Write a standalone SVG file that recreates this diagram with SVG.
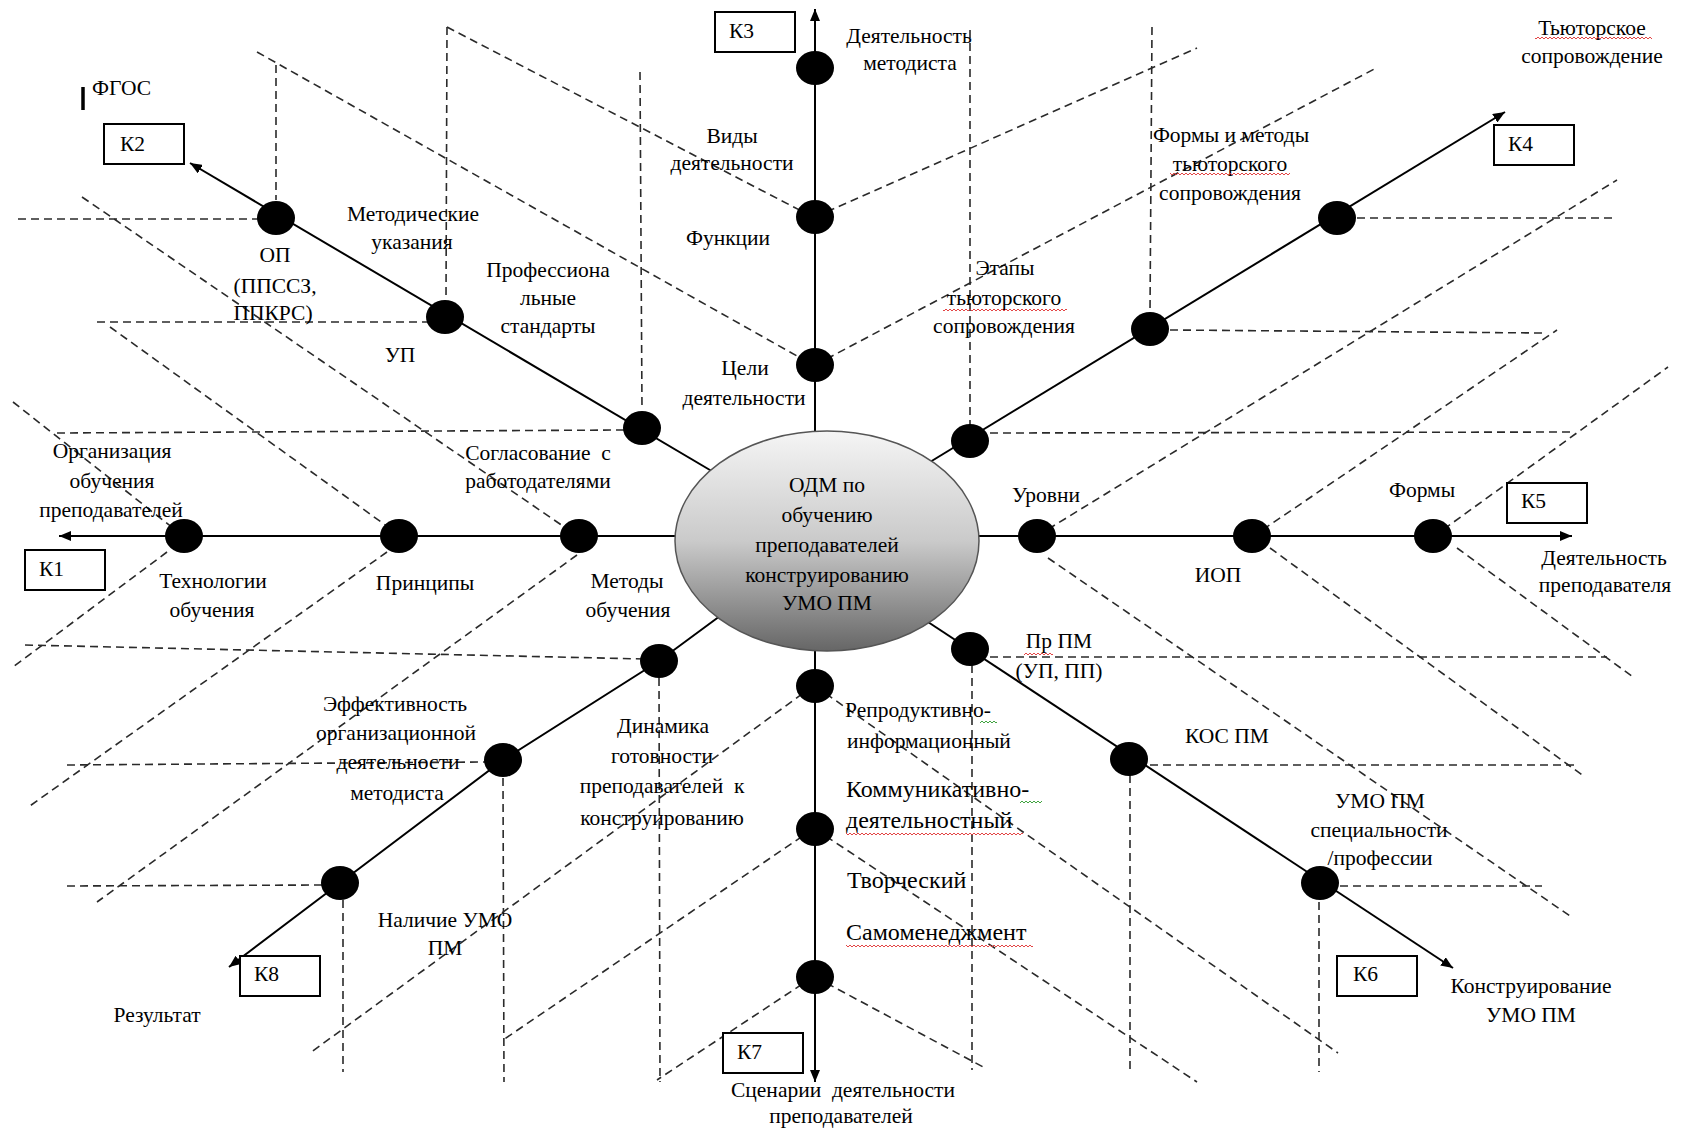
<svg xmlns="http://www.w3.org/2000/svg" width="1691" height="1130" viewBox="0 0 1691 1130">
<style>
.ax{stroke:#000;stroke-width:2;fill:none}
.d{stroke:#2a2a2a;stroke-width:1.6;stroke-dasharray:8 5;fill:none}
.dot{fill:#000}
.box{fill:#fff;stroke:#000;stroke-width:2}
text{font-family:"Liberation Serif","Times New Roman",serif;font-size:21.5px;fill:#000}
.c{text-anchor:middle}
.big{font-size:24px}
.wr{fill:url(#wr)}
.wg{fill:url(#wg)}
</style>
<defs>
<marker id="arr" viewBox="0 0 12 10" refX="12" refY="5" markerWidth="12" markerHeight="10" markerUnits="userSpaceOnUse" orient="auto"><path d="M0,0 L12,5 L0,10 z" fill="#000"/></marker>
<linearGradient id="g" x1="0" y1="0" x2="0" y2="1"><stop offset="0" stop-color="#f5f5f5"/><stop offset="0.5" stop-color="#cacaca"/><stop offset="1" stop-color="#666"/></linearGradient>
<pattern id="wr" width="4" height="4" patternUnits="userSpaceOnUse"><path d="M0 3 L2 1 L4 3" fill="none" stroke="#e03030" stroke-width="0.9"/></pattern>
<pattern id="wg" width="4" height="4" patternUnits="userSpaceOnUse"><path d="M0 3 L2 1 L4 3" fill="none" stroke="#2a9a2a" stroke-width="0.9"/></pattern>
</defs>
<rect width="1691" height="1130" fill="#fff"/>

<g id="connectors">
<g id="guides">
<!-- upper-left -->
<line class="d" x1="18" y1="219" x2="258" y2="219"/>
<line class="d" x1="276" y1="65" x2="276" y2="200"/>
<line class="d" x1="447" y1="27" x2="446" y2="300"/>
<line class="d" x1="257" y1="52" x2="813" y2="365"/>
<line class="d" x1="447" y1="27" x2="813" y2="217"/>
<line class="d" x1="640" y1="72" x2="642" y2="410"/>
<line class="d" x1="97" y1="322" x2="428" y2="322"/>
<line class="d" x1="82" y1="197" x2="579" y2="537"/>
<line class="d" x1="110" y1="327" x2="395" y2="532"/>
<line class="d" x1="13" y1="402" x2="178" y2="532"/>
<line class="d" x1="57" y1="433" x2="625" y2="430"/>
<!-- lower-left -->
<line class="d" x1="167" y1="552" x2="13" y2="667"/>
<line class="d" x1="25" y1="645" x2="645" y2="659"/>
<line class="d" x1="387" y1="552" x2="27" y2="808"/>
<line class="d" x1="577" y1="555" x2="97" y2="902"/>
<line class="d" x1="67" y1="765" x2="485" y2="762"/>
<line class="d" x1="67" y1="886" x2="322" y2="885"/>
<line class="d" x1="343" y1="900" x2="343" y2="1072"/>
<line class="d" x1="503" y1="778" x2="504" y2="1082"/>
<line class="d" x1="659" y1="678" x2="660" y2="1082"/>
<line class="d" x1="813" y1="686" x2="310" y2="1053"/>
<line class="d" x1="813" y1="829" x2="503" y2="1040"/>
<line class="d" x1="813" y1="977" x2="657" y2="1080"/>
<!-- lower-right -->
<line class="d" x1="815" y1="686" x2="1338" y2="1053"/>
<line class="d" x1="815" y1="829" x2="1197" y2="1082"/>
<line class="d" x1="815" y1="977" x2="985" y2="1068"/>
<line class="d" x1="972" y1="665" x2="972" y2="1070"/>
<line class="d" x1="990" y1="657" x2="1607" y2="657"/>
<line class="d" x1="1048" y1="558" x2="1573" y2="918"/>
<line class="d" x1="1130" y1="775" x2="1130" y2="1072"/>
<line class="d" x1="1150" y1="765" x2="1575" y2="765"/>
<line class="d" x1="1270" y1="548" x2="1585" y2="777"/>
<line class="d" x1="1457" y1="548" x2="1633" y2="677"/>
<line class="d" x1="1340" y1="886" x2="1542" y2="886"/>
<line class="d" x1="1319" y1="902" x2="1319" y2="1072"/>
<!-- upper-right -->
<line class="d" x1="970" y1="30" x2="970" y2="425"/>
<line class="d" x1="1152" y1="27" x2="1150" y2="312"/>
<line class="d" x1="815" y1="217" x2="1197" y2="48"/>
<line class="d" x1="815" y1="365" x2="1378" y2="67"/>
<line class="d" x1="1037" y1="536" x2="1617" y2="180"/>
<line class="d" x1="1252" y1="537" x2="1557" y2="330"/>
<line class="d" x1="1433" y1="537" x2="1668" y2="367"/>
<line class="d" x1="990" y1="433" x2="1575" y2="432"/>
<line class="d" x1="1170" y1="330" x2="1543" y2="333"/>
<line class="d" x1="1357" y1="218" x2="1617" y2="218"/>
</g>
<g id="axes">
<line class="ax" x1="815" y1="440" x2="815" y2="9" marker-end="url(#arr)"/>
<line class="ax" x1="815" y1="640" x2="815" y2="1082" marker-end="url(#arr)"/>
<line class="ax" x1="690" y1="536" x2="59" y2="536" marker-end="url(#arr)"/>
<line class="ax" x1="965" y1="536" x2="1572" y2="536" marker-end="url(#arr)"/>
<line class="ax" x1="715" y1="473" x2="190" y2="163" marker-end="url(#arr)"/>
<line class="ax" x1="930" y1="462" x2="1505" y2="112" marker-end="url(#arr)"/>
<polyline class="ax" points="720,616 659,661 503,760 340,883 229,967" marker-end="url(#arr)"/>
<line class="ax" x1="928" y1="622" x2="1453" y2="968" marker-end="url(#arr)"/>
</g>
</g>

<g id="center">
<ellipse cx="827" cy="541" rx="152" ry="110" fill="url(#g)" stroke="#555" stroke-width="1.5"/>
<text class="c" x="827" y="492">ОДМ по</text>
<text class="c" x="827" y="522">обучению</text>
<text class="c" x="827" y="552">преподавателей</text>
<text class="c" x="827" y="582">конструированию</text>
<text class="c" x="827" y="610">УМО ПМ</text>
</g>

<g id="k1"><rect class="box" x="25" y="550" width="80" height="40"/><text x="39" y="576">К1</text></g>
<g id="k2"><rect class="box" x="104" y="124" width="80" height="40"/><text x="120" y="151">К2</text></g>
<g id="k3"><rect class="box" x="715" y="12" width="80" height="40"/><text x="729" y="38">К3</text></g>
<g id="k4"><rect class="box" x="1494" y="125" width="80" height="40"/><text x="1508" y="151">К4</text></g>
<g id="k5"><rect class="box" x="1507" y="483" width="80" height="40"/><text x="1521" y="508">К5</text></g>
<g id="k6"><rect class="box" x="1337" y="956" width="80" height="40"/><text x="1353" y="981">К6</text></g>
<g id="k7"><rect class="box" x="723" y="1033" width="80" height="40"/><text x="737" y="1059">К7</text></g>
<g id="k8"><rect class="box" x="240" y="956" width="80" height="40"/><text x="254" y="981">К8</text></g>

<g id="n-top1"><ellipse class="dot" cx="815" cy="68" rx="19" ry="17"/><text class="c" x="909" y="43">Деятельность</text><text class="c" x="910" y="70">методиста</text></g>
<g id="n-top2"><ellipse class="dot" cx="815" cy="217" rx="19" ry="17"/><text class="c" x="732" y="143">Виды</text><text class="c" x="732" y="170">деятельности</text><text class="c" x="728" y="245">Функции</text></g>
<g id="n-top3"><ellipse class="dot" cx="815" cy="365" rx="19" ry="17"/><text class="c" x="745" y="375">Цели</text><text class="c" x="744" y="405">деятельности</text></g>

<g id="n-ul1"><ellipse class="dot" cx="276" cy="218" rx="19" ry="17"/><text class="c" x="275" y="262">ОП</text><text class="c" x="275" y="293">(ППССЗ,</text><text class="c" x="273" y="320">ППКРС)</text></g>
<g id="n-ul2"><ellipse class="dot" cx="445" cy="317" rx="19" ry="17"/><text class="c" x="413" y="221">Методические</text><text class="c" x="412" y="249">указания</text><text class="c" x="400" y="362">УП</text></g>
<g id="n-ul3"><ellipse class="dot" cx="642" cy="428" rx="19" ry="17"/><text class="c" x="548" y="277">Профессиона</text><text class="c" x="548" y="305">льные</text><text class="c" x="548" y="333">стандарты</text></g>
<g id="fgos"><line x1="83" y1="87" x2="83" y2="110" stroke="#000" stroke-width="3.5"/><text x="92" y="95">ФГОС</text></g>

<g id="n-l1"><ellipse class="dot" cx="184" cy="536" rx="19" ry="17"/><text class="c" x="112" y="458">Организация</text><text class="c" x="112" y="488">обучения</text><text class="c" x="111" y="517">преподавателей</text><text class="c" x="213" y="588">Технологии</text><text class="c" x="212" y="617">обучения</text></g>
<g id="n-l2"><ellipse class="dot" cx="399" cy="536" rx="19" ry="17"/><text class="c" x="425" y="590">Принципы</text></g>
<g id="n-l3"><ellipse class="dot" cx="579" cy="536" rx="19" ry="17"/><text class="c" x="538" y="460" xml:space="preserve">Согласование  с</text><text class="c" x="538" y="488">работодателями</text><text class="c" x="627" y="588">Методы</text><text class="c" x="628" y="617">обучения</text></g>

<g id="n-ur1"><ellipse class="dot" cx="970" cy="441" rx="19" ry="17"/><text class="c" x="1005" y="275">Этапы</text><text class="c" x="1004" y="305">тьюторского</text><text class="c" x="1004" y="333">сопровождения</text></g>
<g id="n-ur2"><ellipse class="dot" cx="1150" cy="329" rx="19" ry="17"/><text class="c" x="1231" y="142">Формы и методы</text><text class="c" x="1230" y="171">тьюторского</text><text class="c" x="1230" y="200">сопровождения</text></g>
<g id="n-ur3"><ellipse class="dot" cx="1337" cy="218" rx="19" ry="17"/><text class="c" x="1592" y="35">Тьюторское</text><text class="c" x="1592" y="63">сопровождение</text></g>

<g id="n-r1"><ellipse class="dot" cx="1037" cy="536" rx="19" ry="17"/><text class="c" x="1046" y="502">Уровни</text></g>
<g id="n-r2"><ellipse class="dot" cx="1252" cy="536" rx="19" ry="17"/><text class="c" x="1218" y="582">ИОП</text></g>
<g id="n-r3"><ellipse class="dot" cx="1433" cy="536" rx="19" ry="17"/><text class="c" x="1422" y="497">Формы</text><text class="c" x="1604" y="565">Деятельность</text><text class="c" x="1605" y="592">преподавателя</text></g>

<g id="n-lr1"><ellipse class="dot" cx="970" cy="649" rx="19" ry="17"/><text class="c" x="1059" y="648">Пр ПМ</text><text class="c" x="1059" y="678">(УП, ПП)</text></g>
<g id="n-lr2"><ellipse class="dot" cx="1129" cy="759" rx="19" ry="17"/><text class="c" x="1227" y="743">КОС ПМ</text></g>
<g id="n-lr3"><ellipse class="dot" cx="1320" cy="883" rx="19" ry="17"/><text class="c" x="1380" y="808">УМО ПМ</text><text class="c" x="1379" y="837">специальности</text><text class="c" x="1380" y="865">/профессии</text><text class="c" x="1531" y="993">Конструирование</text><text class="c" x="1531" y="1022">УМО ПМ</text></g>

<g id="n-b1"><ellipse class="dot" cx="815" cy="686" rx="19" ry="17"/><text x="845" y="717">Репродуктивно-</text><text x="847" y="748">информационный</text></g>
<g id="n-b2"><ellipse class="dot" cx="815" cy="829" rx="19" ry="17"/><text class="big" x="846" y="797">Коммуникативно-</text><text class="big" x="846" y="828">деятельностный</text><text class="big" x="847" y="888">Творческий</text></g>
<g id="n-b3"><ellipse class="dot" cx="815" cy="977" rx="19" ry="17"/><text class="big" x="846" y="940">Самоменеджмент</text><text class="c" x="843" y="1097" xml:space="preserve">Сценарии  деятельности</text><text class="c" x="841" y="1123">преподавателей</text></g>

<g id="n-ll1"><ellipse class="dot" cx="659" cy="661" rx="19" ry="17"/><text class="c" x="663" y="733">Динамика</text><text class="c" x="662" y="763">готовности</text><text class="c" x="662" y="793" xml:space="preserve">преподавателей  к</text><text class="c" x="662" y="825">конструированию</text></g>
<g id="n-ll2"><ellipse class="dot" cx="503" cy="760" rx="19" ry="17"/><text class="c" x="395" y="711">Эффективность</text><text class="c" x="396" y="740">организационной</text><text class="c" x="398" y="769">деятельности</text><text class="c" x="397" y="800">методиста</text></g>
<g id="n-ll3"><ellipse class="dot" cx="340" cy="883" rx="19" ry="17"/><text class="c" x="445" y="927">Наличие УМО</text><text class="c" x="445" y="955">ПМ</text><text class="c" x="157" y="1022">Результат</text></g>

<g id="spellmarks">
<rect class="wr" x="1535" y="36" width="117" height="4"/>
<rect class="wr" x="1170" y="172" width="120" height="4"/>
<rect class="wr" x="943" y="308" width="124" height="4"/>
<rect class="wr" x="1024" y="652" width="29" height="4"/>
<rect class="wr" x="846" y="832" width="177" height="4"/>
<rect class="wr" x="846" y="944" width="187" height="4"/>
<rect class="wg" x="1020" y="800" width="22" height="4"/>
<rect class="wg" x="980" y="720" width="17" height="4"/>
</g>
</svg>
